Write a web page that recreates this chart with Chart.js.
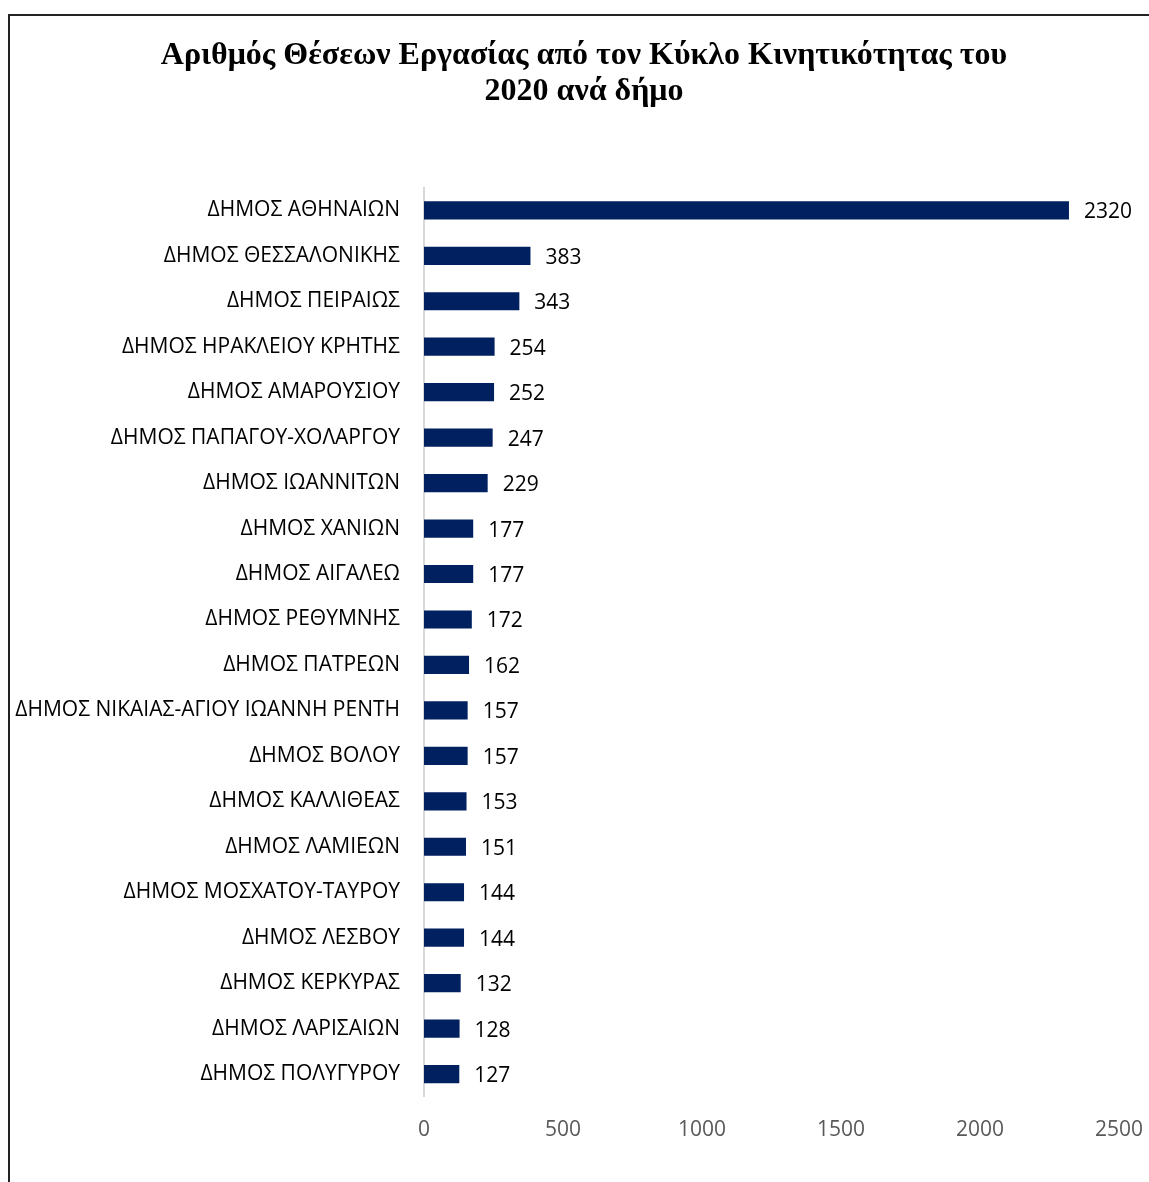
<!DOCTYPE html>
<html>
<head>
<meta charset="utf-8">
<script src="https://cdn.jsdelivr.net/npm/chart.js@4"></script>
<style>
  body { margin: 0; background: #fff; overflow: hidden; }
  #frame {
    position: absolute; left: 8px; top: 14px;
    width: 1160px; height: 1200px;
    border-top: 2px solid #222; border-left: 2px solid #222;
  }
  #wrap { position: absolute; left: 10px; top: 16px; width: 1148px; height: 1166px; }
</style>
</head>
<body>
<div id="frame"></div>
<div id="wrap"><canvas id="jobsChart"></canvas></div>
<script>
const dimoi = [
  "ΔΗΜΟΣ ΑΘΗΝΑΙΩΝ",
  "ΔΗΜΟΣ ΘΕΣΣΑΛΟΝΙΚΗΣ",
  "ΔΗΜΟΣ ΠΕΙΡΑΙΩΣ",
  "ΔΗΜΟΣ ΗΡΑΚΛΕΙΟΥ ΚΡΗΤΗΣ",
  "ΔΗΜΟΣ ΑΜΑΡΟΥΣΙΟΥ",
  "ΔΗΜΟΣ ΠΑΠΑΓΟΥ-ΧΟΛΑΡΓΟΥ",
  "ΔΗΜΟΣ ΙΩΑΝΝΙΤΩΝ",
  "ΔΗΜΟΣ ΧΑΝΙΩΝ",
  "ΔΗΜΟΣ ΑΙΓΑΛΕΩ",
  "ΔΗΜΟΣ ΡΕΘΥΜΝΗΣ",
  "ΔΗΜΟΣ ΠΑΤΡΕΩΝ",
  "ΔΗΜΟΣ ΝΙΚΑΙΑΣ-ΑΓΙΟΥ ΙΩΑΝΝΗ ΡΕΝΤΗ",
  "ΔΗΜΟΣ ΒΟΛΟΥ",
  "ΔΗΜΟΣ ΚΑΛΛΙΘΕΑΣ",
  "ΔΗΜΟΣ ΛΑΜΙΕΩΝ",
  "ΔΗΜΟΣ ΜΟΣΧΑΤΟΥ-ΤΑΥΡΟΥ",
  "ΔΗΜΟΣ ΛΕΣΒΟΥ",
  "ΔΗΜΟΣ ΚΕΡΚΥΡΑΣ",
  "ΔΗΜΟΣ ΛΑΡΙΣΑΙΩΝ",
  "ΔΗΜΟΣ ΠΟΛΥΓΥΡΟΥ"
];
const theseis = [2320, 383, 343, 254, 252, 247, 229, 177, 177, 172, 162, 157, 157, 153, 151, 144, 144, 132, 128, 127];
const titlos = ["Αριθμός Θέσεων Εργασίας από τον Κύκλο Κινητικότητας του", "2020 ανά δήμο"];
const xTicks = [0, 500, 1000, 1500, 2000, 2500];

const fontSans = "'Open Sans', 'Noto Sans', sans-serif";

// values written to the right of each bar
const barValues = {
  id: 'barValues',
  afterDatasetsDraw(chart) {
    const ctx = chart.ctx;
    const meta = chart.getDatasetMeta(0);
    ctx.save();
    ctx.font = "21px " + fontSans;
    ctx.fillStyle = "#000";
    ctx.textAlign = "left";
    ctx.textBaseline = "middle";
    meta.data.forEach((bar, i) => {
      ctx.fillText(theseis[i], bar.x + 15, bar.y + 2);
    });
    ctx.restore();
  }
};

new Chart(document.getElementById("jobsChart"), {
  type: "bar",
  data: {
    labels: dimoi,
    datasets: [{
      data: theseis,
      backgroundColor: "#002060",
      barPercentage: 0.4,
      categoryPercentage: 1
    }]
  },
  options: {
    indexAxis: "y",
    responsive: true,
    maintainAspectRatio: false,
    animation: false,
    layout: { padding: { left: 0, right: 0, top: 0, bottom: 18 } },
    plugins: {
      legend: { display: false },
      tooltip: { enabled: false },
      title: {
        display: true,
        text: titlos,
        color: "#000",
        font: { family: "'Liberation Serif', 'DejaVu Serif', serif", size: 32, weight: "bold", lineHeight: 1.15 },
        padding: { top: 21, bottom: 77 }
      }
    },
    scales: {
      x: {
        min: 0,
        max: 2500,
        afterBuildTicks: (scale) => { scale.ticks = xTicks.map(v => ({ value: v })); },
        afterFit: (scale) => { scale.paddingRight = 39; },
        grid: { display: false, drawTicks: false },
        border: { display: false },
        ticks: {
          color: "#595959", padding: 21,
          font: { family: fontSans, size: 21 },
          callback: (v) => String(v)
        }
      },
      y: {
        grid: { display: false, drawTicks: false },
        border: { display: true, color: "#d9d9d9", width: 2 },
        afterFit: (scale) => { scale.width = 414; },
        ticks: { color: "#000", padding: 24, font: { family: fontSans, size: 21 } }
      }
    }
  },
  plugins: [barValues]
});
</script>
</body>
</html>
